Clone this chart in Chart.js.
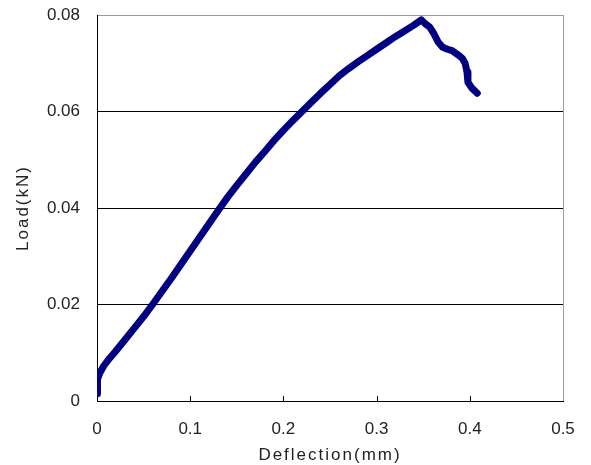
<!DOCTYPE html>
<html>
<head>
<meta charset="utf-8">
<script src="https://cdn.jsdelivr.net/npm/chart.js@4.4.0/dist/chart.umd.min.js"></script>
<style>
  html, body { margin: 0; padding: 0; background: #fff; }
  #wrap { width: 591px; height: 465px; position: relative; }
</style>
</head>
<body>
<div id="wrap"><canvas id="chart"></canvas></div>
<script>
// load-deflection curve
const deflection = [0, 0, 0.001, 0.003, 0.007, 0.012, 0.02, 0.03, 0.04, 0.05, 0.06, 0.07, 0.08, 0.09,
    0.10, 0.11, 0.12, 0.13, 0.14, 0.15, 0.16, 0.17, 0.18, 0.19, 0.20, 0.21, 0.22, 0.23, 0.24, 0.25,
    0.26, 0.27, 0.28, 0.29, 0.30, 0.31, 0.32, 0.33, 0.34, 0.348, 0.352, 0.357, 0.361, 0.366, 0.371,
    0.376, 0.381, 0.387, 0.392, 0.395, 0.397, 0.398, 0.402, 0.408];
const load = [0.0015, 0.003, 0.0045, 0.0058, 0.0072, 0.0085, 0.0103, 0.0127, 0.0151, 0.0175, 0.0201,
    0.0228, 0.0255, 0.0283, 0.0311, 0.0339, 0.0367, 0.0395, 0.0422, 0.0447, 0.0471, 0.0495, 0.0517,
    0.0540, 0.0561, 0.0581, 0.0600, 0.0619, 0.0638, 0.0656, 0.0674, 0.0689, 0.0703, 0.0716, 0.0729,
    0.0742, 0.0755, 0.0767, 0.0779, 0.0790, 0.0782, 0.0775, 0.0763, 0.0744, 0.0733, 0.0729, 0.0726,
    0.0718, 0.0710, 0.0700, 0.0682, 0.0661, 0.0649, 0.0638];
const xTicks = [0, 0.1, 0.2, 0.3, 0.4, 0.5];
const yTicks = [0, 0.02, 0.04, 0.06, 0.08];
const xTitle = 'Deflection(mm)';
const yTitle = 'Load(kN)';

const FONT = '"Liberation Sans", Arial, sans-serif';
const points = deflection.map((d, i) => ({ x: d, y: load[i] }));

// small inward tick marks on the bottom axis + spaced axis titles
const axisExtras = {
    id: 'axisExtras',
    afterDraw(chart) {
        const ctx = chart.ctx;
        const xs = chart.scales.x;
        const area = chart.chartArea;
        ctx.save();
        ctx.strokeStyle = '#000';
        ctx.lineWidth = 1;
        xTicks.slice(1, -1).forEach(v => {
            const px = Math.round(xs.getPixelForValue(v)) + 0.5;
            ctx.beginPath();
            ctx.moveTo(px, area.bottom);
            ctx.lineTo(px, area.bottom - 5);
            ctx.stroke();
        });
        ctx.fillStyle = '#222';
        ctx.font = '17px ' + FONT;
        ctx.letterSpacing = '2px';
        ctx.textAlign = 'center';
        ctx.textBaseline = 'alphabetic';
        ctx.fillText(xTitle, (area.left + area.right) / 2, 460);
        ctx.translate(28, (area.top + area.bottom) / 2);
        ctx.rotate(-Math.PI / 2);
        ctx.fillText(yTitle, 0, 0);
        ctx.restore();
    }
};

new Chart(document.getElementById('chart'), {
    type: 'scatter',
    data: {
        datasets: [{
            data: points,
            showLine: true,
            borderColor: '#000080',
            backgroundColor: '#000080',
            borderWidth: 7,
            borderCapStyle: 'round',
            borderJoinStyle: 'round',
            pointRadius: 0,
            tension: 0
        }]
    },
    options: {
        responsive: true,
        maintainAspectRatio: false,
        animation: false,
        layout: { padding: { top: 15, right: 28, left: 0, bottom: 0 } },
        plugins: { legend: { display: false }, tooltip: { enabled: false } },
        scales: {
            x: {
                type: 'linear',
                min: 0, max: 0.5,
                afterBuildTicks: s => { s.ticks = xTicks.map(v => ({ value: v })); },
                afterFit: s => {
                    s.height = 64;
                    s.paddingLeft = 0;
                    s.paddingRight = 0;
                },
                border: { color: '#000', width: 1 },
                grid: {
                    drawTicks: false,
                    color: c => (c.tick && c.tick.value === 0.5) ? '#9a9a9a' : 'rgba(0,0,0,0)'
                },
                ticks: {
                    padding: 18,
                    color: '#222',
                    font: { family: FONT, size: 17 },
                    callback: v => String(v)
                }
            },
            y: {
                min: 0, max: 0.08,
                afterBuildTicks: s => { s.ticks = yTicks.map(v => ({ value: v })); },
                afterFit: s => {
                    s.width = 97;
                    s.paddingTop = 0;
                    s.paddingBottom = 0;
                },
                border: { color: '#000', width: 1 },
                grid: {
                    drawTicks: false,
                    color: c => {
                        const v = c.tick ? c.tick.value : null;
                        if (v === 0.08) return '#9a9a9a';
                        if (v === 0) return 'rgba(0,0,0,0)';
                        return '#000';
                    }
                },
                ticks: {
                    padding: 17,
                    color: '#222',
                    font: { family: FONT, size: 17 },
                    callback: v => String(v)
                }
            }
        }
    },
    plugins: [axisExtras]
});
</script>
</body>
</html>
